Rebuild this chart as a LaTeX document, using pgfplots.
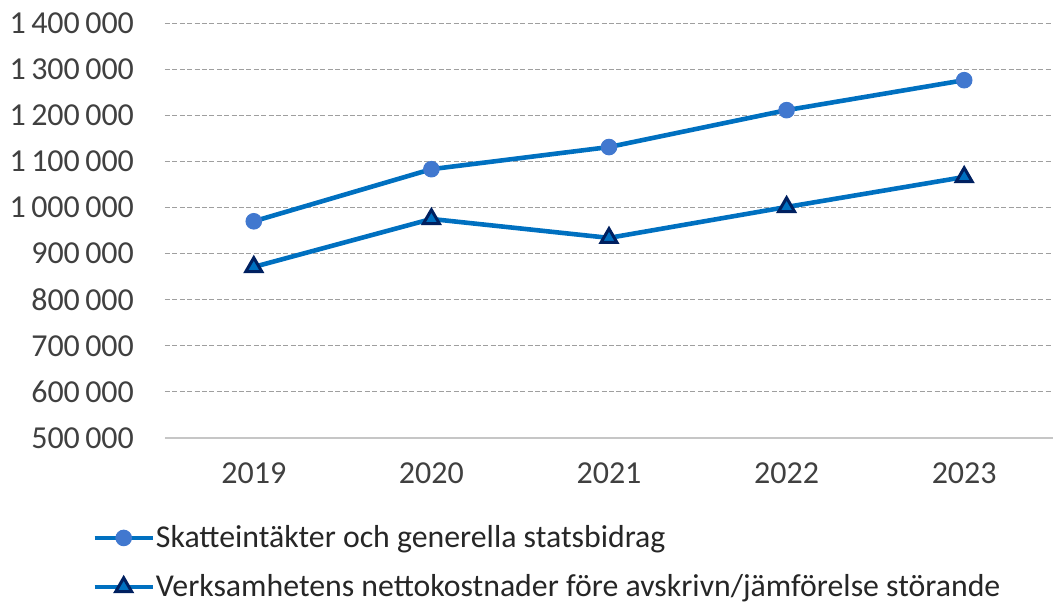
\documentclass[border=0pt]{standalone}
\usepackage{pgfplots}
\pgfplotsset{compat=1.18}
\usepackage{fontspec}
\setmainfont{Carlito}
\definecolor{lineblue}{HTML}{0070C0}
\definecolor{circblue}{HTML}{4178CF}
\definecolor{navy}{HTML}{002060}
\definecolor{txt}{HTML}{404040}
\begin{document}
\begin{tikzpicture}
\useasboundingbox (-82.5pt,-86.5pt) rectangle (444.5pt,219pt);
\begin{axis}[
  at={(0,0)}, anchor=south west,
  scale only axis, width=444pt, height=207.5pt,
  xmin=-0.5, xmax=4.5, ymin=500000, ymax=1400000,
  xtick={0,1,2,3,4}, xticklabels={2019,2020,2021,2022,2023},
  ytick distance=100000,
  scaled y ticks=false,
  axis x line*=bottom, axis y line*=left,
  x axis line style={draw=gray!45, line width=0.6pt, -},
  y axis line style={draw=none},
  major tick length=0pt,
  ymajorgrids,
  grid style={gray!75, line width=0.5pt, dash pattern=on 2.5pt off 1.2pt},
  font=\fontsize{16}{19}\selectfont\color{txt},
  yticklabel={\pgfmathprintnumber[fixed, precision=0, 1000 sep={\,}, assume math mode=true]{\tick}},
  xticklabel style={yshift=-9pt, text=txt},
  yticklabel style={xshift=-12pt, text=txt},
  legend style={at={(axis description cs:0,0)}, anchor=north west,
    xshift=-36.5pt, yshift=-43pt, draw=none, fill=none, inner sep=0pt,
    row sep=11pt, text=black!85,
    nodes={inner sep=0.5pt, font=\fontsize{15.9}{19}\selectfont}},
  legend cell align=left,
  legend image code/.code={\draw[mark repeat=2, mark phase=2] plot coordinates {(0pt,0pt) (14.5pt,0pt) (29pt,0pt)};},
]
\addplot[lineblue, line width=2.3pt, mark=*, mark size=3.9pt,
  mark options={fill=circblue, draw=circblue, line width=0.5pt}]
  coordinates {(0,970000) (1,1083000) (2,1131000) (3,1211000) (4,1276000)};
\addlegendentry{Skatteintäkter och generella statsbidrag}
\addplot[lineblue, line width=2.3pt, mark=triangle*, mark size=4.6pt,
  mark options={fill=lineblue, draw=navy, line width=1.5pt}]
  coordinates {(0,871000) (1,975000) (2,934000) (3,1001000) (4,1066000)};
\addlegendentry{Verksamhetens nettokostnader före avskrivn/jämförelse störande}
\end{axis}
\end{tikzpicture}
\end{document}
